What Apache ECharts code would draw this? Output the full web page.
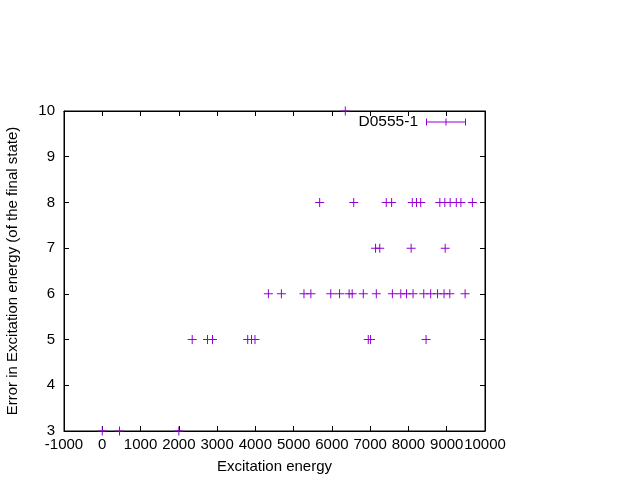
<!DOCTYPE html>
<html>
<head>
<meta charset="utf-8">
<script src="https://cdn.jsdelivr.net/npm/echarts@6/dist/echarts.min.js"></script>
<style>html,body{margin:0;padding:0;background:#fff}#c{width:640px;height:480px}</style>
</head>
<body>
<div id="c"></div>
<script>
var seriesName = 'D0555-1';
var xTitle = 'Excitation energy';
var yTitle = 'Error in Excitation energy (of the final state)';
var energy3 = [0, 450, 2000];
var energy5 = [2350, 2750, 2880, 3800, 3900, 3990, 6950, 7010, 8460];
var energy6 = [4340, 4680, 5270, 5450, 5970, 6200, 6450, 6530, 6820, 7160, 7580, 7800, 7950, 8120, 8400, 8580, 8760, 8930, 9080, 9480];
var energy7 = [7140, 7250, 8070, 8960];
var energy8 = [5680, 6570, 7420, 7560, 8100, 8210, 8320, 8820, 8950, 9090, 9250, 9370, 9670];
var energy10 = [6350];

var rows = [[3, energy3], [5, energy5], [6, energy6], [7, energy7], [8, energy8], [10, energy10]];
var data = [];
rows.forEach(function (r) { r[1].forEach(function (x) { data.push([x, r[0]]); }); });

var FONT = '"Liberation Sans", Arial, sans-serif';
var plus = 'path://M4,0H5V4H9V5H5V9H4V5H0V4H4Z';
var legendIcon = 'path://M0,3H40V4H0Z M0,0H1V7H0Z M39,0H40V7H39Z M19.5,0H20.5V7H19.5Z';

var chart = echarts.init(document.getElementById('c'), null, {renderer: 'canvas'});
chart.setOption({
  animation: false,
  backgroundColor: '#fff',
  grid: {left: 64, right: 155, top: 111, bottom: 49, show: true, borderColor: '#000', borderWidth: 1,
    backgroundColor: 'transparent', containLabel: false, outerBoundsMode: 'none'},
  legend: {
    right: 174, top: 114, padding: 0, align: 'right', itemWidth: 40, itemHeight: 7, itemGap: 0,
    textStyle: {fontFamily: FONT, fontSize: 15.5, color: '#000', padding: [0, 3, 0, 0]},
    data: [{name: seriesName, icon: legendIcon}]
  },
  xAxis: [{
    type: 'value', min: -1000, max: 10000, interval: 1000,
    name: xTitle, nameLocation: 'middle', nameGap: 28,
    nameTextStyle: {fontFamily: FONT, fontSize: 15, color: '#000'},
    axisLine: {show: true, onZero: false, lineStyle: {color: '#000'}},
    axisTick: {show: true, inside: true, length: 5, lineStyle: {color: '#000'}},
    axisLabel: {fontFamily: FONT, fontSize: 15, color: '#000', margin: 6, showMinLabel: true, showMaxLabel: true,
      hideOverlap: false, formatter: function (v) { return String(v); }},
    splitLine: {show: false}
  }, {
    type: 'value', position: 'top', min: -1000, max: 10000, interval: 1000,
    axisLine: {show: true, onZero: false, lineStyle: {color: '#000'}},
    axisTick: {show: true, inside: true, length: 5, lineStyle: {color: '#000'}},
    axisLabel: {show: false}, splitLine: {show: false}
  }],
  yAxis: [{
    type: 'value', min: 3, max: 10, interval: 1,
    name: yTitle, nameLocation: 'middle', nameGap: 44,
    nameTextStyle: {fontFamily: FONT, fontSize: 15, color: '#000'},
    axisLine: {show: true, onZero: false, lineStyle: {color: '#000'}},
    axisTick: {show: true, inside: true, length: 5, lineStyle: {color: '#000'}},
    axisLabel: {fontFamily: FONT, fontSize: 15, color: '#000', margin: 9, showMinLabel: true, showMaxLabel: true},
    splitLine: {show: false}
  }, {
    type: 'value', position: 'right', min: 3, max: 10, interval: 1,
    axisLine: {show: true, onZero: false, lineStyle: {color: '#000'}},
    axisTick: {show: true, inside: true, length: 5, lineStyle: {color: '#000'}},
    axisLabel: {show: false}, splitLine: {show: false}
  }],
  series: [{
    name: seriesName, type: 'scatter', data: data, clip: false,
    symbol: plus, symbolSize: 9,
    itemStyle: {color: '#9400D3', opacity: 1}
  }]
});
</script>
</body>
</html>
